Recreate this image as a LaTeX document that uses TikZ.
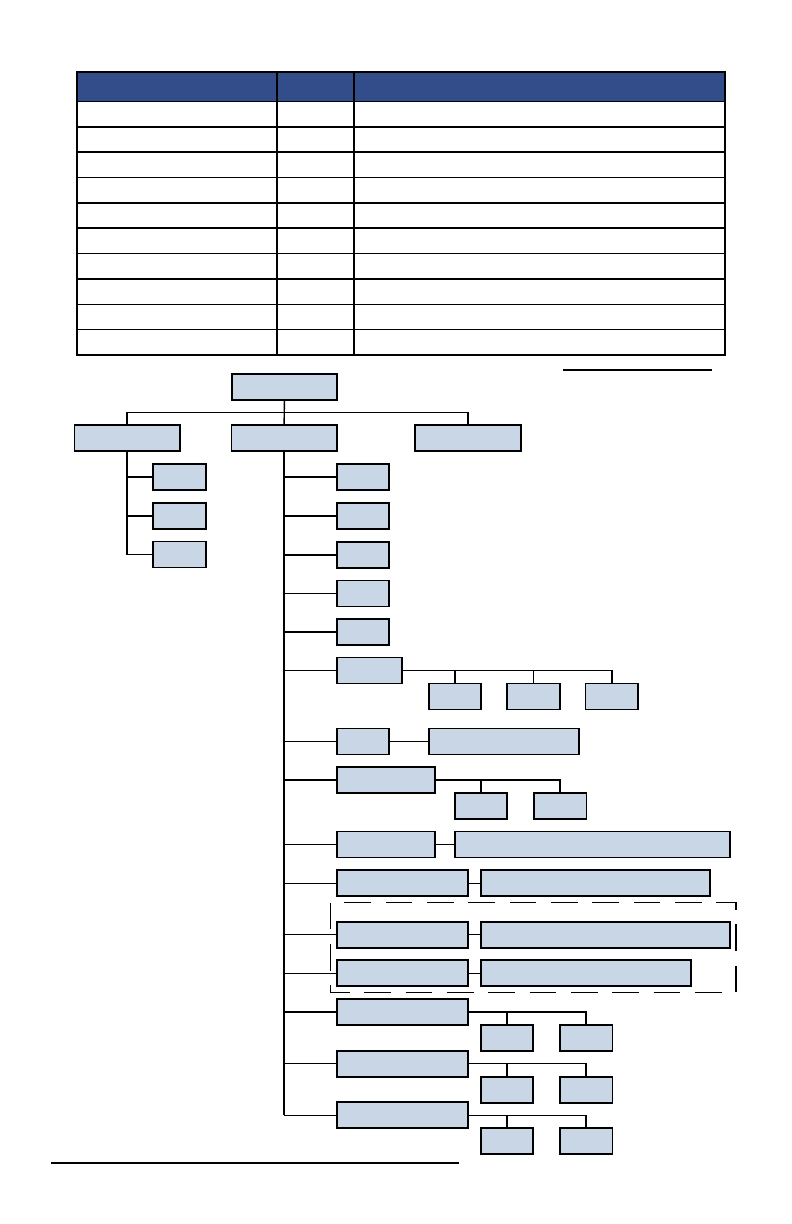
\documentclass[tikz,border=0pt]{standalone}
\usepackage{tikz}
\usetikzlibrary{positioning}
\definecolor{headblue}{RGB}{51,77,138}
\definecolor{boxblue}{RGB}{201,214,229}
\tikzset{
chart_box/.style={rectangle, draw, line width=1.4pt, fill=boxblue, inner sep=0pt, outer sep=0pt, minimum height=19.5pt},
small_box/.style={chart_box, minimum width=39.5pt},
top_box/.style={chart_box, minimum width=79pt},
mid_box/.style={chart_box, minimum width=73.7pt},
long_box/.style={chart_box, minimum width=98.5pt},
link/.style={line width=1.1pt},
row_line/.style={line width=1.2pt},
dashed_frame/.style={line width=1.1pt, dash pattern=on 20pt off 11pt}
}
\begin{document}
\begin{tikzpicture}[x=0.75pt, y=-0.75pt]
    \useasboundingbox (0,0) rectangle (792,1224);

    % table
    \fill[headblue] (77,72) rectangle (725,101.5);
    \foreach \i in {0,...,9}
        \draw[row_line] (77,101.5+25.35*\i) -- (725,101.5+25.35*\i);
    \draw[line width=1.1pt] (277,72) -- (277,355) (354,72) -- (354,355);
    \draw[line width=1.6pt] (77,72) rectangle (725,355);
    \draw[line width=0.8pt] (563,370) -- (712,370);

    % top of the chart
    \node[top_box] (root) at (284.3,386.7) {};
    \node[top_box] (grp_a) at (127.2,438.4) {};
    \node[top_box] (grp_b) at (284.2,438.4) {};
    \node[top_box] (grp_c) at (468,438.4) {};
    \coordinate (bus) at (284.3,412.7);
    \draw[link] (root.south) -- (grp_b.north);
    \draw[link] (grp_a.north) |- (bus) -| (grp_c.north);

    % left group
    \foreach \n/\y in {1/477, 2/516, 3/554.5}
        \node[small_box] (a_\n) at (179.7,\y) {};
    \draw[link] (grp_a.south) |- (a_3.west);
    \draw[link] (grp_a.south |- a_1.west) -- (a_1.west);
    \draw[link] (grp_a.south |- a_2.west) -- (a_2.west);

    % middle group
    \foreach \n/\y in {1/477, 2/516, 3/555, 4/593.5, 5/632, 7/741.5}
        \node[small_box, anchor=west] (b_\n) at (336.7,\y) {};
    \node[chart_box, minimum width=49.2pt, anchor=west] (b_6) at (336.7,670.5) {};
    \node[mid_box, anchor=west] (b_8) at (336.7,780) {};
    \node[mid_box, anchor=west] (b_9) at (336.7,844.5) {};
    \foreach \n/\y in {10/883.3, 11/934.7, 12/973.3, 13/1012, 14/1063.7, 15/1115.4}
        \node[long_box, anchor=west] (b_\n) at (336.7,\y) {};

    \draw[link] (grp_b.south) -- (grp_b.south |- b_15.west);
    \foreach \n in {1,...,15}
        \draw[link] (grp_b.south |- b_\n.west) -- (b_\n.west);

    % b_6 with three below
    \node[small_box] (b_6_1) [below right=0pt and 19.8pt of b_6] {};
    \node[small_box] (b_6_2) [right=19.3pt of b_6_1] {};
    \node[small_box] (b_6_3) [right=19.3pt of b_6_2] {};
    \draw[link] (b_6.east) -| (b_6_3.north);
    \draw[link] (b_6_1.north) -- (b_6_1.north |- b_6.east);
    \draw[link] (b_6_2.north) -- (b_6_2.north |- b_6.east);

    % b_7 with one beside
    \node[chart_box, minimum width=113pt] (b_7_r) [right=29.5pt of b_7] {};
    \draw[link] (b_7) -- (b_7_r);

    % b_8 with two below
    \node[small_box] (b_8_1) [below right=0pt and 14.8pt of b_8] {};
    \node[small_box] (b_8_2) [right=19.8pt of b_8_1] {};
    \draw[link] (b_8.east) -| (b_8_2.north);
    \draw[link] (b_8_1.north) -- (b_8_1.north |- b_8.east);

    % b_9 .. b_12 with one beside
    \node[chart_box, minimum width=206.5pt] (b_9_r) [right=14.8pt of b_9] {};
    \node[chart_box, minimum width=172pt] (b_10_r) [right=9.5pt of b_10] {};
    \node[chart_box, minimum width=187pt] (b_11_r) [right=9.5pt of b_11] {};
    \node[chart_box, minimum width=158pt] (b_12_r) [right=9.5pt of b_12] {};
    \foreach \n in {9,...,12}
        \draw[link] (b_\n) -- (b_\n_r);

    \draw[dashed_frame] (330.3,902.7) rectangle (736,992.7);

    % b_13 .. b_15 with two below
    \foreach \n in {13,14,15} {
        \node[small_box] (b_\n_1) [below right=0pt and 9.5pt of b_\n] {};
        \node[small_box] (b_\n_2) [right=19.8pt of b_\n_1] {};
        \draw[link] (b_\n.east) -| (b_\n_2.north);
        \draw[link] (b_\n_1.north) -- (b_\n_1.north |- b_\n.east);
    }

    \draw[line width=1pt] (51,1163) -- (459,1163);
\end{tikzpicture}
\end{document}
